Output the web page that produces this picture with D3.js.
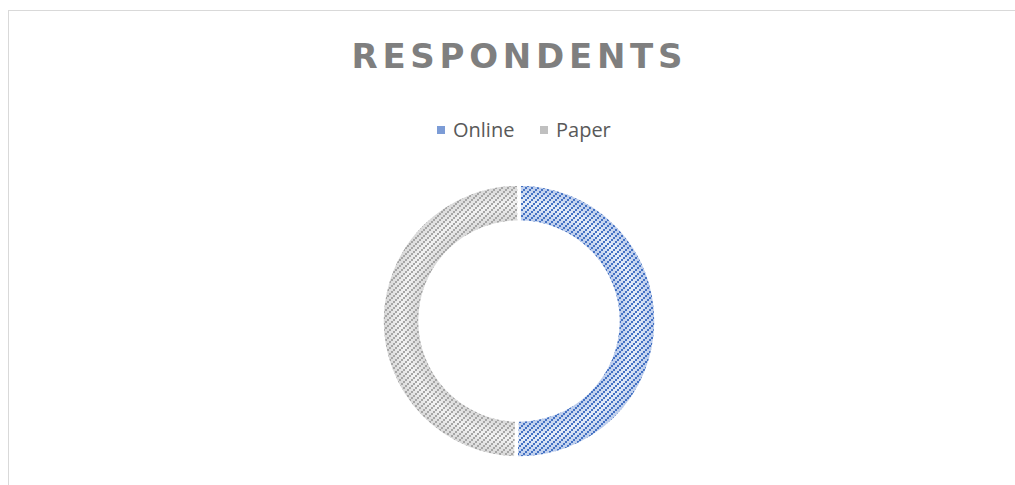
<!DOCTYPE html>
<html>
<head>
<meta charset="utf-8">
<script src="https://cdn.jsdelivr.net/npm/d3@7"></script>
<style>
  html, body { margin: 0; padding: 0; background: #fff; overflow: hidden; }
  svg { display: block; }
</style>
</head>
<body>
<svg id="chart" width="1015" height="485"></svg>
<script>
// ---- data ----
const title = "RESPONDENTS";
const categories = ["Online", "Paper"];
const values = [146, 144];
const baseColors = ["#4472C4", "#A5A5A5"];
const lightColors = ["#e6edf8", "#f3f3f3"];
const edgeColors = ["#b6c8ea", "#d6d6d6"];
const dotColors = ["#4472C4", "#a6a6a6"];

const W = 1015, H = 485;
const svg = d3.select("#chart");
const defs = svg.append("defs");

// frame
svg.append("rect")
  .attr("x", 8.5).attr("y", 10.5)
  .attr("width", 1200).attr("height", 700)
  .attr("fill", "#fff").attr("stroke", "#d9d9d9").attr("stroke-width", 1);

// title
svg.append("text")
  .attr("x", 517).attr("y", 68)
  .attr("text-anchor", "middle")
  .attr("font-family", "'DejaVu Sans', sans-serif")
  .attr("font-weight", "bold")
  .attr("font-size", 34)
  .attr("fill", "#7f7f7f")
  .attr("textLength", 331)
  .attr("lengthAdjust", "spacing")
  .text(title);

const cx = 519, cy = 321, rOuter = 137, rInner = 99;

categories.forEach((c, i) => {
  const g = defs.append("radialGradient")
    .attr("id", "grad" + i)
    .attr("gradientUnits", "userSpaceOnUse")
    .attr("cx", 0).attr("cy", 0).attr("r", rOuter);
  const f = rInner / rOuter;
  g.append("stop").attr("offset", 0).attr("stop-color", edgeColors[i]);
  g.append("stop").attr("offset", f).attr("stop-color", edgeColors[i]);
  g.append("stop").attr("offset", (f + 1) / 2).attr("stop-color", lightColors[i]);
  g.append("stop").attr("offset", 1).attr("stop-color", edgeColors[i]);

  const p = defs.append("pattern")
    .attr("id", "pat" + i)
    .attr("patternUnits", "userSpaceOnUse")
    .attr("width", 6).attr("height", 6);
  [[0, 4], [2, 2], [4, 0]].forEach(([x, y]) => {
    p.append("rect").attr("x", x).attr("y", y)
      .attr("width", 2).attr("height", 2)
      .attr("fill", dotColors[i]);
  });
});

// donut
const pie = d3.pie().sort(null).value(d => d)(values);
const arc = d3.arc().innerRadius(rInner).outerRadius(rOuter);
const gDonut = svg.append("g").attr("transform", `translate(${cx},${cy})`);

gDonut.selectAll("path.bg").data(pie).join("path")
  .attr("class", "bg")
  .attr("d", arc)
  .attr("fill", (d, i) => `url(#grad${i})`);

gDonut.selectAll("path.fg").data(pie).join("path")
  .attr("class", "fg")
  .attr("d", arc)
  .attr("fill", (d, i) => `url(#pat${i})`)
  .attr("stroke", "#fff")
  .attr("stroke-width", 3.5);

// legend
const legendItems = [
  { x: 437, tx: 453 },
  { x: 540, tx: 556 }
];
const lg = svg.append("g");
categories.forEach((c, i) => {
  lg.append("rect")
    .attr("x", legendItems[i].x).attr("y", 126)
    .attr("width", 8).attr("height", 8)
    .attr("fill", baseColors[i]).attr("opacity", 0.7);
  lg.append("text")
    .attr("x", legendItems[i].tx).attr("y", 137)
    .attr("font-family", "'Open Sans', sans-serif")
    .attr("font-size", 20)
    .attr("fill", "#595959")
    .text(c);
});
</script>
</body>
</html>
